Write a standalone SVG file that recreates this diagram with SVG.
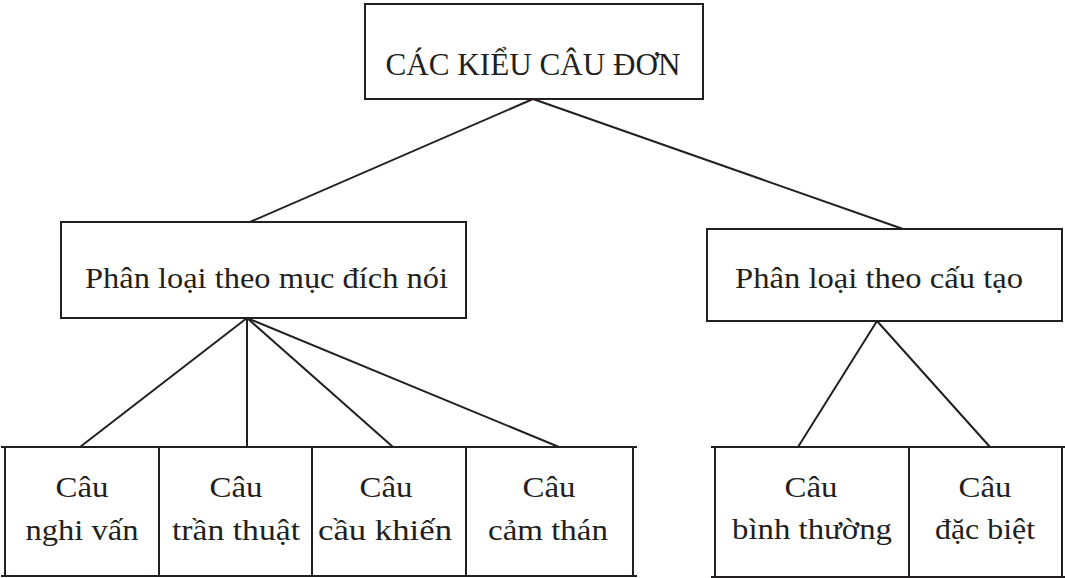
<svg xmlns="http://www.w3.org/2000/svg" width="1065" height="578" viewBox="0 0 1065 578">
<style>
.box{fill:none;stroke:#231f20;stroke-width:2}
.ln{stroke:#231f20;stroke-width:2;fill:none}
.t{font-family:"Liberation Serif","Times New Roman",serif;font-size:30px;fill:#231f20;text-anchor:middle}
.h{font-size:32px}
</style>
<rect width="1065" height="578" fill="#ffffff"/>
<g id="connectors">
<line class="ln" x1="533" y1="99" x2="250" y2="222"/>
<line class="ln" x1="533" y1="99" x2="903" y2="229"/>
<line class="ln" x1="247" y1="318" x2="80" y2="447"/>
<line class="ln" x1="247" y1="318" x2="247" y2="447"/>
<line class="ln" x1="247" y1="318" x2="393" y2="447"/>
<line class="ln" x1="247" y1="318" x2="559" y2="447"/>
<line class="ln" x1="877" y1="321" x2="798" y2="447"/>
<line class="ln" x1="877" y1="321" x2="990" y2="447"/>
</g>
<g id="root">
<rect class="box" x="365" y="4" width="338" height="95"/>
<text class="t h" x="533" y="75" textLength="295" lengthAdjust="spacingAndGlyphs">CÁC KIỂU CÂU ĐƠN</text>
</g>
<g id="purpose">
<rect class="box" x="61" y="222" width="405" height="96"/>
<text class="t" x="266.5" y="288" textLength="363" lengthAdjust="spacingAndGlyphs">Phân loại theo mục đích nói</text>
</g>
<g id="structure">
<rect class="box" x="707" y="229" width="355" height="92"/>
<text class="t" x="879" y="288" textLength="288" lengthAdjust="spacingAndGlyphs">Phân loại theo cấu tạo</text>
</g>
<g id="table-rules">
<line class="ln" x1="1" y1="447" x2="637" y2="447"/>
<line class="ln" x1="1" y1="576" x2="637" y2="576"/>
<line class="ln" x1="711" y1="447" x2="1065" y2="447"/>
<line class="ln" x1="711" y1="577" x2="1065" y2="577"/>
</g>
<g id="nghi-van">
<rect class="box" x="5" y="447" width="154" height="129"/>
<text class="t" x="82" y="497" textLength="53" lengthAdjust="spacingAndGlyphs">Câu</text>
<text class="t" x="82" y="540" textLength="113" lengthAdjust="spacingAndGlyphs">nghi vấn</text>
</g>
<g id="tran-thuat">
<rect class="box" x="159" y="447" width="153" height="129"/>
<text class="t" x="236" y="497" textLength="53" lengthAdjust="spacingAndGlyphs">Câu</text>
<text class="t" x="236" y="540" textLength="128" lengthAdjust="spacingAndGlyphs">trần thuật</text>
</g>
<g id="cau-khien">
<rect class="box" x="312" y="447" width="154" height="129"/>
<text class="t" x="386" y="497" textLength="53" lengthAdjust="spacingAndGlyphs">Câu</text>
<text class="t" x="385" y="540" textLength="134" lengthAdjust="spacingAndGlyphs">cầu khiến</text>
</g>
<g id="cam-than">
<rect class="box" x="466" y="447" width="167" height="129"/>
<text class="t" x="549" y="497" textLength="53" lengthAdjust="spacingAndGlyphs">Câu</text>
<text class="t" x="548" y="540" textLength="120" lengthAdjust="spacingAndGlyphs">cảm thán</text>
</g>
<g id="binh-thuong">
<rect class="box" x="715" y="447" width="194" height="130"/>
<text class="t" x="811" y="497" textLength="53" lengthAdjust="spacingAndGlyphs">Câu</text>
<text class="t" x="812" y="539" textLength="160" lengthAdjust="spacingAndGlyphs">bình thường</text>
</g>
<g id="dac-biet">
<rect class="box" x="909" y="447" width="153" height="130"/>
<text class="t" x="985" y="497" textLength="53" lengthAdjust="spacingAndGlyphs">Câu</text>
<text class="t" x="985" y="539" textLength="100" lengthAdjust="spacingAndGlyphs">đặc biệt</text>
</g>
</svg>
